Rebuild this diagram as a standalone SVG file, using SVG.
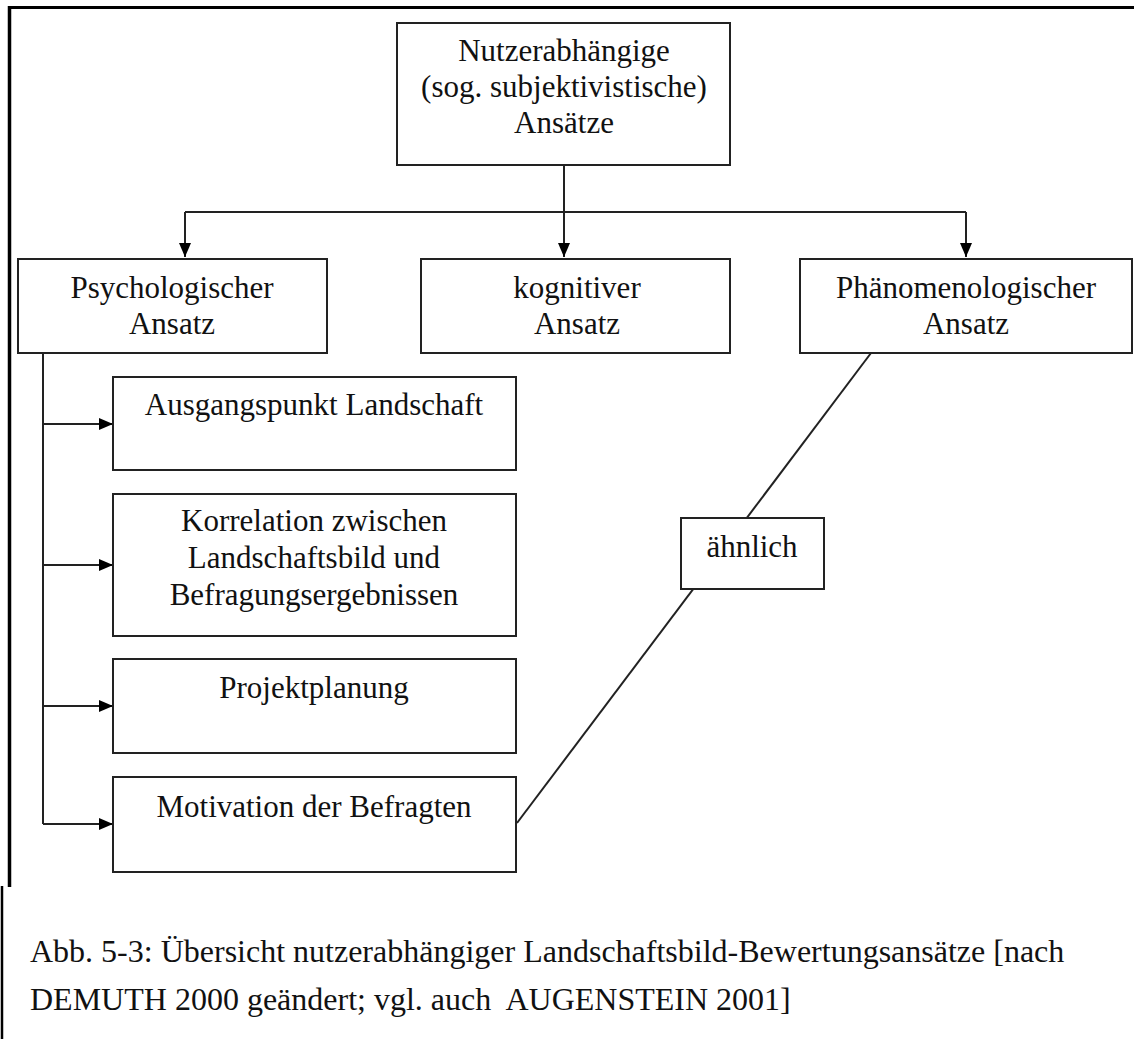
<svg xmlns="http://www.w3.org/2000/svg" width="1134" height="1039" viewBox="0 0 1134 1039">
<style>
.box{fill:#fff;stroke:#222;stroke-width:2}
.t{font-family:"Liberation Serif","Times New Roman",serif;font-size:31px;fill:#111;text-anchor:middle}
.cap{font-family:"Liberation Serif","Times New Roman",serif;font-size:32px;fill:#111;white-space:pre}
.c{fill:none;stroke:#222;stroke-width:2}
.frame{fill:none;stroke:#000}
</style>
<defs>
<marker id="ah" viewBox="0 0 14 12" refX="14" refY="6" markerWidth="14" markerHeight="12" markerUnits="userSpaceOnUse" orient="auto">
<path d="M0,0 L14,6 L0,12 z" fill="#000"/>
</marker>
</defs>
<rect width="1134" height="1039" fill="#fff"/>
<g id="frame">
<line class="frame" x1="8" y1="7.5" x2="1134" y2="7.5" stroke-width="3"/>
<line class="frame" x1="9.5" y1="6" x2="9.5" y2="887" stroke-width="3.5"/>
<line class="frame" x1="2" y1="886" x2="2" y2="1039" stroke-width="2.5"/>
</g>
<g id="connectors">
<path class="c" d="M564,165 V257" marker-end="url(#ah)"/>
<path class="c" d="M185,212 H966"/>
<path class="c" d="M185,212 V257" marker-end="url(#ah)"/>
<path class="c" d="M966,212 V257" marker-end="url(#ah)"/>
<path class="c" d="M43,353 V824"/>
<path class="c" d="M43,424 H113" marker-end="url(#ah)"/>
<path class="c" d="M43,565 H113" marker-end="url(#ah)"/>
<path class="c" d="M43,706 H113" marker-end="url(#ah)"/>
<path class="c" d="M43,824 H113" marker-end="url(#ah)"/>
<path class="c" d="M871,353 L517,823"/>
</g>
<g id="top">
<rect class="box" x="397" y="23" width="333" height="142"/>
<text class="t" x="564" y="61">Nutzerabhängige</text>
<text class="t" x="564" y="97">(sog. subjektivistische)</text>
<text class="t" x="564" y="133">Ansätze</text>
</g>
<g id="psych">
<rect class="box" x="18" y="259" width="309" height="94"/>
<text class="t" x="172" y="298">Psychologischer</text>
<text class="t" x="172" y="334">Ansatz</text>
</g>
<g id="kogn">
<rect class="box" x="421" y="259" width="309" height="94"/>
<text class="t" x="577" y="298">kognitiver</text>
<text class="t" x="577" y="334">Ansatz</text>
</g>
<g id="phaen">
<rect class="box" x="800" y="259" width="332" height="94"/>
<text class="t" x="966" y="298">Phänomenologischer</text>
<text class="t" x="966" y="334">Ansatz</text>
</g>
<g id="ausgang">
<rect class="box" x="113" y="377" width="403" height="93"/>
<text class="t" x="314" y="415">Ausgangspunkt Landschaft</text>
</g>
<g id="korrelation">
<rect class="box" x="113" y="494" width="403" height="142"/>
<text class="t" x="314" y="531">Korrelation zwischen</text>
<text class="t" x="314" y="568">Landschaftsbild und</text>
<text class="t" x="314" y="605">Befragungsergebnissen</text>
</g>
<g id="projekt">
<rect class="box" x="113" y="659" width="403" height="94"/>
<text class="t" x="314" y="698">Projektplanung</text>
</g>
<g id="motivation">
<rect class="box" x="113" y="777" width="403" height="95"/>
<text class="t" x="314" y="817">Motivation der Befragten</text>
</g>
<g id="aehnlich">
<rect class="box" x="681" y="518" width="143" height="71"/>
<text class="t" x="752" y="557">ähnlich</text>
</g>
<g id="caption">
<text class="cap" x="30" y="962">Abb. 5-3: Übersicht nutzerabhängiger Landschaftsbild-Bewertungsansätze [nach</text>
<text class="cap" x="30" y="1010">DEMUTH 2000 geändert; vgl. auch  AUGENSTEIN 2001]</text>
</g>
</svg>
